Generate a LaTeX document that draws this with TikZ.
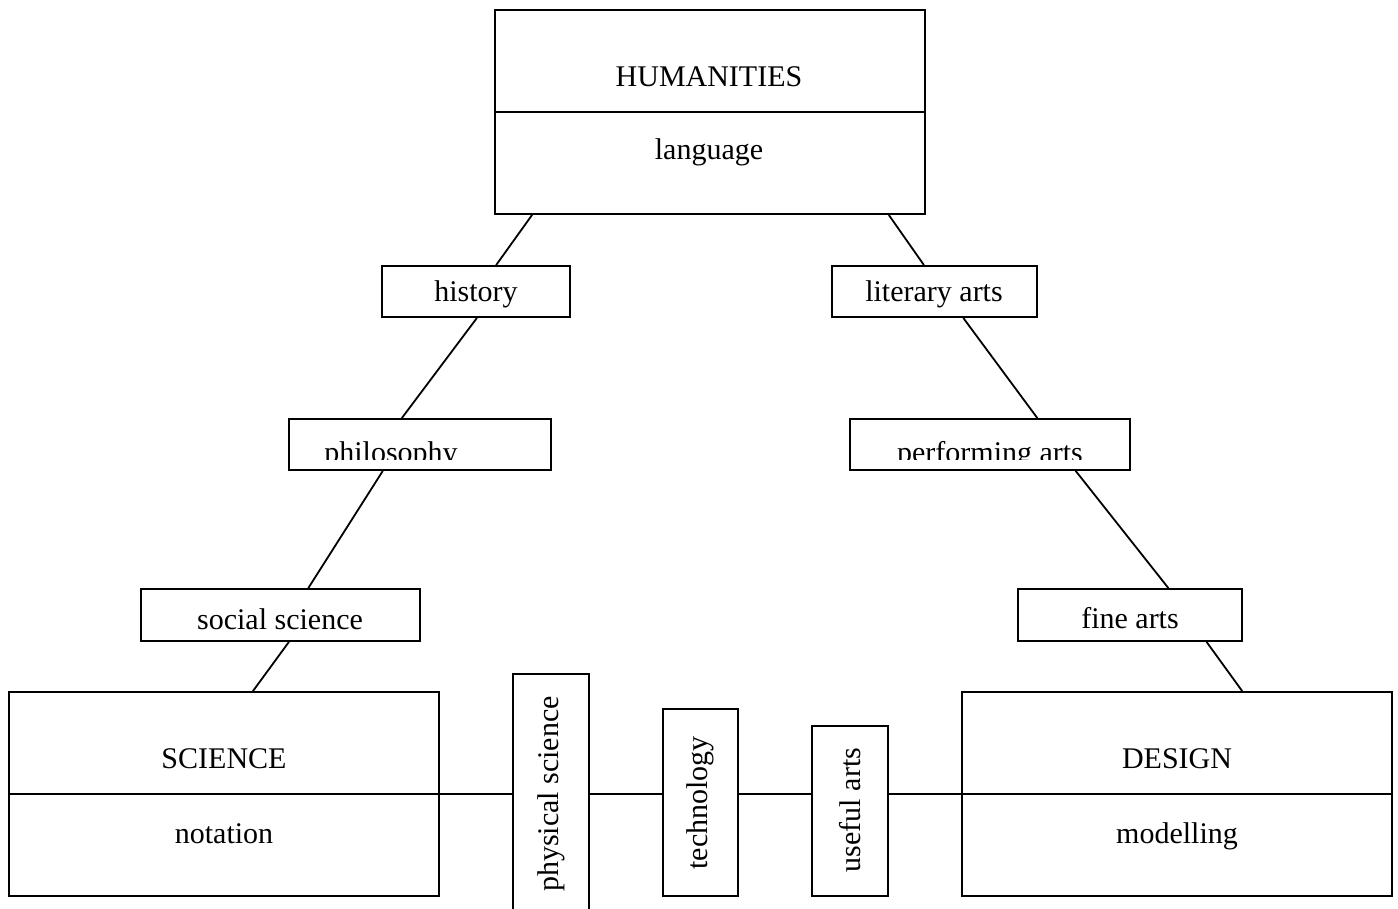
\documentclass[tikz,border=0pt]{standalone}
\usepackage{fontspec}
\setmainfont{Liberation Serif}
\usetikzlibrary{calc,backgrounds}
\tikzset{
  bigbox/.style={draw, fill=white, line width=0.9pt, inner sep=0pt, minimum width=215pt, minimum height=102pt},
  smallbox/.style={draw, fill=white, line width=0.9pt, inner sep=0pt},
  lbl/.style={anchor=base, inner sep=0pt, font=\fontsize{15}{18}\selectfont},
  vlbl/.style={rotate=90, inner sep=0pt, font=\fontsize{15}{18}\selectfont},
  conn/.style={line width=0.9pt}
}
\begin{document}
\begin{tikzpicture}[x=0.5pt,y=-0.5pt]
\useasboundingbox (0,0) rectangle (1398,909);
% main boxes
\node[bigbox] (hum) at (710,112) {};
\draw[conn] (hum.west) -- (hum.east);
\node[lbl] (humT) at (709,87) {HUMANITIES};
\node[lbl] (humB) at (709,160) {language};

\node[bigbox] (sci) at (224,794) {};
\draw[conn] (sci.west) -- (sci.east);
\node[lbl] (sciT) at (224,768) {SCIENCE};
\node[lbl] (sciB) at (224,843) {notation};

\node[bigbox] (des) at (1177,794) {};
\draw[conn] (des.west) -- (des.east);
\node[lbl] (desT) at (1177,768) {DESIGN};
\node[lbl] (desB) at (1177,843) {modelling};

% left branch
\node[smallbox, minimum width=94pt, minimum height=25.5pt] (hist) at (476,291.5) {};
\node[lbl] (histT) at (476,302) {history};
\node[smallbox, minimum width=131pt, minimum height=25.5pt] (phil) at (420,444.5) {};
\begin{scope}
  \clip (phil.north west) rectangle ([yshift=5.5pt]phil.south east);
  \node[lbl] (philT) at (391,462) {philosophy};
\end{scope}
\node[smallbox, minimum width=139.5pt, minimum height=26pt] (soc) at (280.5,615) {};
\node[lbl] (socT) at (280,629) {social science};

% right branch
\node[smallbox, minimum width=102.5pt, minimum height=25.5pt] (lit) at (934.5,291.5) {};
\node[lbl] (litT) at (934,302) {literary arts};
\node[smallbox, minimum width=140pt, minimum height=25.5pt] (perf) at (990,444.5) {};
\begin{scope}
  \clip (perf.north west) rectangle ([yshift=5.5pt]perf.south east);
  \node[lbl] (perfT) at (990,462) {performing arts};
\end{scope}
\node[smallbox, minimum width=112pt, minimum height=26pt] (fine) at (1130,615) {};
\node[lbl] (fineT) at (1130,628) {fine arts};

% bottom row
\node[smallbox, minimum width=38pt, minimum height=120pt] (phys) at (551,794) {};
\node[vlbl] (physT) at (551,794) {physical science};
\node[smallbox, minimum width=37.5pt, minimum height=93.5pt] (tech) at (700.5,802.5) {};
\node[vlbl] (techT) at (700.5,803) {technology};
\node[smallbox, minimum width=38pt, minimum height=85pt] (use) at (850,811) {};
\node[vlbl] (useT) at (850,810) {useful arts};

\begin{scope}[on background layer]
  \draw[conn] (sci.east) -- (des.west);
\end{scope}

% connectors left
\draw[conn] ($(hum.south west)!0.088!(hum.south east)$) -- ($(hist.north west)!0.606!(hist.north east)$);
\draw[conn] ($(hist.south west)!0.505!(hist.south east)$) -- ($(phil.north west)!0.431!(phil.north east)$);
\draw[conn] ($(phil.south west)!0.359!(phil.south east)$) -- ($(soc.north west)!0.599!(soc.north east)$);
\draw[conn] ($(soc.south west)!0.530!(soc.south east)$) -- ($(sci.north west)!0.567!(sci.north east)$);
% connectors right
\draw[conn] ($(hum.south west)!0.914!(hum.south east)$) -- ($(lit.north west)!0.449!(lit.north east)$);
\draw[conn] ($(lit.south west)!0.639!(lit.south east)$) -- ($(perf.north west)!0.668!(perf.north east)$);
\draw[conn] ($(perf.south west)!0.804!(perf.south east)$) -- ($(fine.north west)!0.670!(fine.north east)$);
\draw[conn] ($(fine.south west)!0.839!(fine.south east)$) -- ($(des.north west)!0.651!(des.north east)$);
\end{tikzpicture}
\end{document}
